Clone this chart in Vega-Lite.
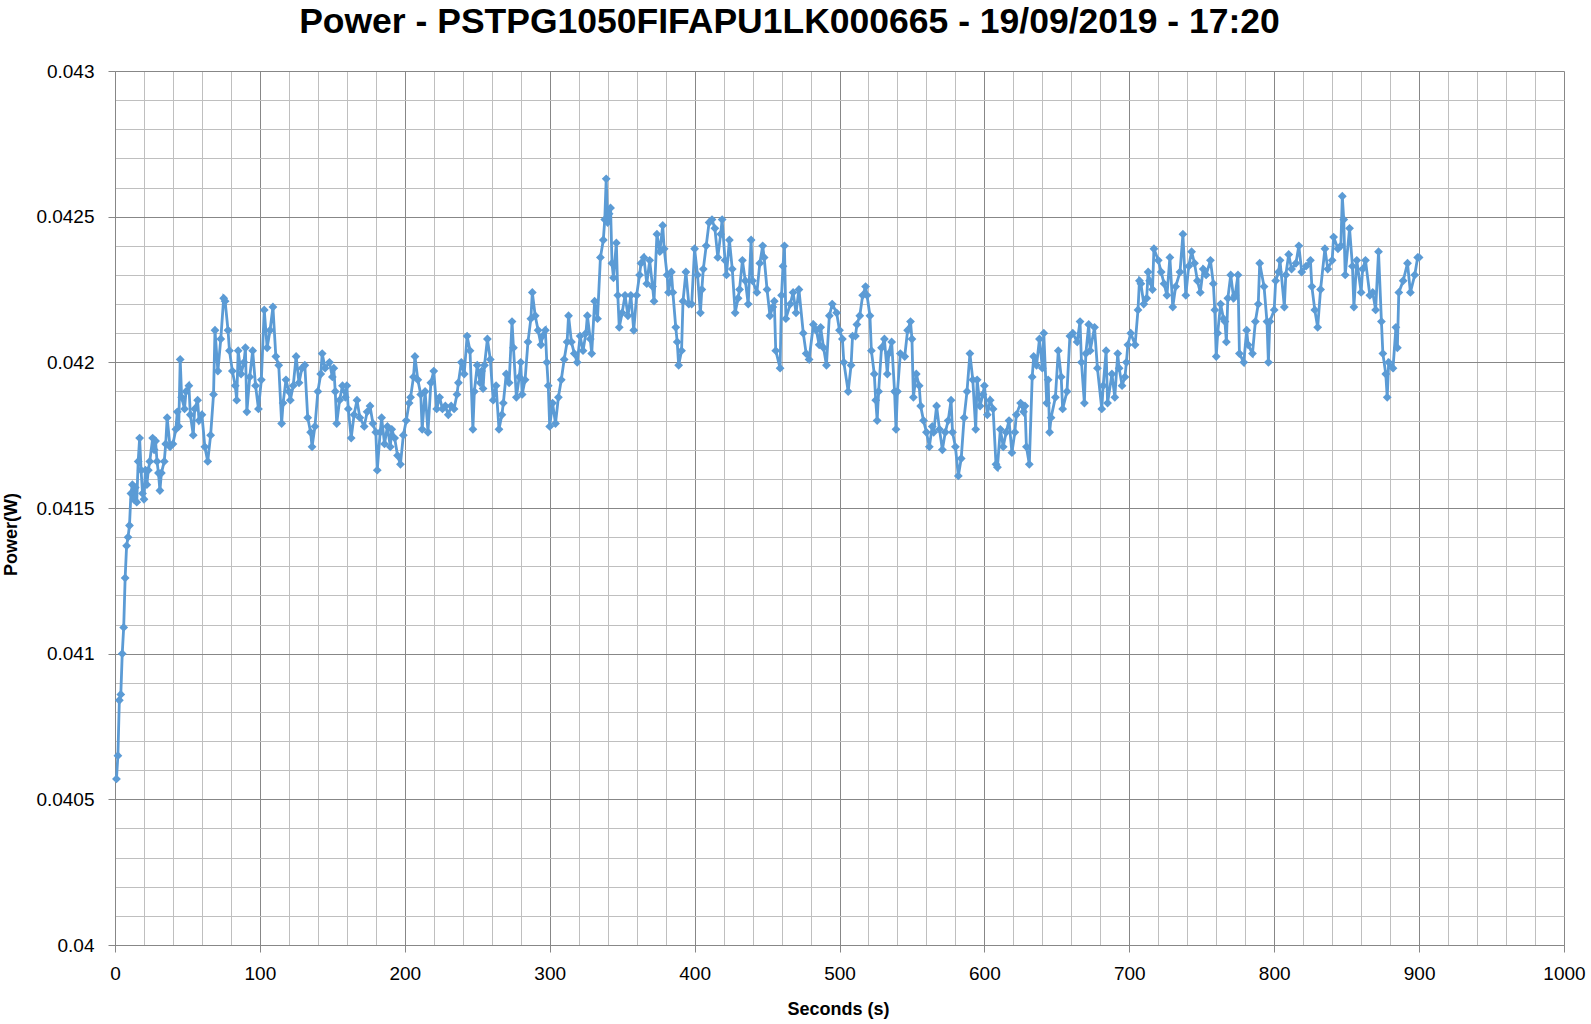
{
  "$schema": "https://vega.github.io/schema/vega-lite/v6.json",
  "width": 1449,
  "height": 874,
  "autosize": {"type": "none"},
  "padding": {"left": 115, "top": 71, "right": 27, "bottom": 79},
  "background": "white",
  "title": {
    "text": "Power - PSTPG1050FIFAPU1LK000665 - 19/09/2019 - 17:20",
    "font": "Liberation Sans",
    "fontSize": 35.5,
    "fontWeight": "bold",
    "color": "#000000",
    "anchor": "middle",
    "frame": "group",
    "offset": 22,
    "dx": -50
  },
  "config": {"view": {"stroke": null}},
  "data": {
    "values": [
      {"s":1,"p":0.04057},{"s":2,"p":0.04065},{"s":3,"p":0.04084},{"s":4,"p":0.04086},{"s":5,"p":0.04100},{"s":6,"p":0.04109},{"s":7,"p":0.04126},{"s":8,"p":0.04137},{"s":9,"p":0.04140},{"s":10,"p":0.04144},
      {"s":11,"p":0.04155},{"s":12,"p":0.04158},{"s":13,"p":0.04153},{"s":14,"p":0.04157},{"s":15,"p":0.04152},{"s":16,"p":0.04166},{"s":17,"p":0.04174},{"s":18,"p":0.04163},{"s":19,"p":0.04155},{"s":20,"p":0.04153},
      {"s":21,"p":0.04163},{"s":22,"p":0.04158},{"s":23,"p":0.04163},{"s":24,"p":0.04166},{"s":26,"p":0.04174},{"s":27,"p":0.04170},{"s":28,"p":0.04173},{"s":29,"p":0.04166},{"s":30,"p":0.04162},{"s":31,"p":0.04156},
      {"s":32,"p":0.04162},{"s":34,"p":0.04166},{"s":35,"p":0.04172},{"s":36,"p":0.04181},{"s":38,"p":0.04171},{"s":40,"p":0.04172},{"s":42,"p":0.04177},{"s":43,"p":0.04183},{"s":44,"p":0.04178},{"s":45,"p":0.04201},
      {"s":46,"p":0.04188},{"s":48,"p":0.04184},{"s":49,"p":0.04190},{"s":51,"p":0.04192},{"s":52,"p":0.04182},{"s":54,"p":0.04175},{"s":55,"p":0.04184},{"s":57,"p":0.04187},{"s":58,"p":0.04180},{"s":60,"p":0.04182},
      {"s":62,"p":0.04171},{"s":64,"p":0.04166},{"s":66,"p":0.04175},{"s":68,"p":0.04189},{"s":69,"p":0.04211},{"s":71,"p":0.04197},{"s":73,"p":0.04208},{"s":75,"p":0.04222},{"s":76,"p":0.04221},{"s":78,"p":0.04211},
      {"s":79,"p":0.04204},{"s":81,"p":0.04197},{"s":83,"p":0.04192},{"s":84,"p":0.04187},{"s":85,"p":0.04204},{"s":87,"p":0.04196},{"s":89,"p":0.04200},{"s":90,"p":0.04205},{"s":91,"p":0.04183},{"s":93,"p":0.04195},
      {"s":95,"p":0.04204},{"s":97,"p":0.04192},{"s":99,"p":0.04184},{"s":101,"p":0.04194},{"s":103,"p":0.04218},{"s":105,"p":0.04205},{"s":107,"p":0.04211},{"s":109,"p":0.04219},{"s":111,"p":0.04202},{"s":113,"p":0.04199},
      {"s":115,"p":0.04179},{"s":116,"p":0.04186},{"s":118,"p":0.04194},{"s":120,"p":0.04190},{"s":121,"p":0.04187},{"s":123,"p":0.04192},{"s":125,"p":0.04202},{"s":127,"p":0.04193},{"s":129,"p":0.04198},{"s":131,"p":0.04199},
      {"s":133,"p":0.04181},{"s":135,"p":0.04176},{"s":136,"p":0.04171},{"s":138,"p":0.04178},{"s":140,"p":0.04190},{"s":142,"p":0.04196},{"s":143,"p":0.04203},{"s":145,"p":0.04198},{"s":148,"p":0.04200},{"s":150,"p":0.04195},
      {"s":151,"p":0.04198},{"s":152,"p":0.04190},{"s":153,"p":0.04179},{"s":155,"p":0.04187},{"s":157,"p":0.04192},{"s":159,"p":0.04188},{"s":160,"p":0.04192},{"s":161,"p":0.04184},{"s":163,"p":0.04174},{"s":165,"p":0.04182},
      {"s":167,"p":0.04187},{"s":169,"p":0.04181},{"s":172,"p":0.04178},{"s":174,"p":0.04183},{"s":176,"p":0.04185},{"s":178,"p":0.04179},{"s":180,"p":0.04176},{"s":181,"p":0.04163},{"s":183,"p":0.04176},{"s":184,"p":0.04181},
      {"s":186,"p":0.04172},{"s":188,"p":0.04178},{"s":190,"p":0.04171},{"s":191,"p":0.04177},{"s":193,"p":0.04174},{"s":195,"p":0.04168},{"s":197,"p":0.04165},{"s":199,"p":0.04175},{"s":201,"p":0.04180},{"s":203,"p":0.04186},
      {"s":204,"p":0.04188},{"s":206,"p":0.04195},{"s":207,"p":0.04202},{"s":209,"p":0.04194},{"s":211,"p":0.04189},{"s":212,"p":0.04177},{"s":214,"p":0.04190},{"s":216,"p":0.04176},{"s":218,"p":0.04193},{"s":220,"p":0.04197},
      {"s":222,"p":0.04184},{"s":224,"p":0.04188},{"s":226,"p":0.04184},{"s":228,"p":0.04185},{"s":230,"p":0.04182},{"s":232,"p":0.04185},{"s":234,"p":0.04184},{"s":236,"p":0.04189},{"s":237,"p":0.04193},{"s":239,"p":0.04200},
      {"s":241,"p":0.04196},{"s":243,"p":0.04209},{"s":245,"p":0.04204},{"s":247,"p":0.04177},{"s":248,"p":0.04190},{"s":250,"p":0.04199},{"s":252,"p":0.04193},{"s":253,"p":0.04197},{"s":254,"p":0.04191},{"s":255,"p":0.04199},
      {"s":257,"p":0.04208},{"s":259,"p":0.04201},{"s":261,"p":0.04187},{"s":263,"p":0.04192},{"s":265,"p":0.04177},{"s":267,"p":0.04182},{"s":268,"p":0.04186},{"s":270,"p":0.04196},{"s":272,"p":0.04193},{"s":274,"p":0.04214},
      {"s":275,"p":0.04205},{"s":277,"p":0.04188},{"s":279,"p":0.04195},{"s":280,"p":0.04200},{"s":281,"p":0.04189},{"s":283,"p":0.04194},{"s":285,"p":0.04207},{"s":287,"p":0.04215},{"s":288,"p":0.04224},{"s":290,"p":0.04216},
      {"s":292,"p":0.04211},{"s":294,"p":0.04206},{"s":295,"p":0.04209},{"s":297,"p":0.04211},{"s":298,"p":0.04200},{"s":299,"p":0.04192},{"s":300,"p":0.04178},{"s":302,"p":0.04186},{"s":304,"p":0.04179},{"s":306,"p":0.04188},
      {"s":308,"p":0.04194},{"s":310,"p":0.04201},{"s":312,"p":0.04207},{"s":313,"p":0.04216},{"s":315,"p":0.04207},{"s":317,"p":0.04203},{"s":319,"p":0.04200},{"s":321,"p":0.04209},{"s":323,"p":0.04204},{"s":325,"p":0.04210},
      {"s":326,"p":0.04216},{"s":328,"p":0.04208},{"s":329,"p":0.04203},{"s":331,"p":0.04221},{"s":333,"p":0.04215},{"s":335,"p":0.04236},{"s":337,"p":0.04242},{"s":338,"p":0.04249},{"s":339,"p":0.04263},{"s":340,"p":0.04248},
      {"s":341,"p":0.04251},{"s":342,"p":0.04253},{"s":343,"p":0.04234},{"s":344,"p":0.04229},{"s":346,"p":0.04241},{"s":347,"p":0.04223},{"s":348,"p":0.04212},{"s":350,"p":0.04217},{"s":352,"p":0.04223},{"s":354,"p":0.04216},
      {"s":356,"p":0.04223},{"s":358,"p":0.04211},{"s":360,"p":0.04223},{"s":362,"p":0.04230},{"s":363,"p":0.04234},{"s":365,"p":0.04236},{"s":367,"p":0.04227},{"s":369,"p":0.04235},{"s":371,"p":0.04226},{"s":372,"p":0.04221},
      {"s":374,"p":0.04244},{"s":376,"p":0.04238},{"s":378,"p":0.04247},{"s":379,"p":0.04239},{"s":381,"p":0.04230},{"s":382,"p":0.04224},{"s":384,"p":0.04231},{"s":385,"p":0.04224},{"s":387,"p":0.04212},{"s":388,"p":0.04207},
      {"s":389,"p":0.04199},{"s":391,"p":0.04204},{"s":392,"p":0.04221},{"s":394,"p":0.04231},{"s":396,"p":0.04220},{"s":398,"p":0.04220},{"s":400,"p":0.04239},{"s":402,"p":0.04230},{"s":404,"p":0.04217},{"s":405,"p":0.04225},
      {"s":406,"p":0.04232},{"s":408,"p":0.04240},{"s":410,"p":0.04248},{"s":412,"p":0.04249},{"s":414,"p":0.04246},{"s":416,"p":0.04236},{"s":418,"p":0.04244},{"s":419,"p":0.04249},{"s":421,"p":0.04235},{"s":422,"p":0.04230},
      {"s":424,"p":0.04242},{"s":426,"p":0.04232},{"s":428,"p":0.04217},{"s":430,"p":0.04222},{"s":431,"p":0.04225},{"s":433,"p":0.04235},{"s":435,"p":0.04228},{"s":437,"p":0.04220},{"s":439,"p":0.04242},{"s":440,"p":0.04228},
      {"s":443,"p":0.04224},{"s":445,"p":0.04234},{"s":447,"p":0.04240},{"s":448,"p":0.04236},{"s":450,"p":0.04225},{"s":452,"p":0.04216},{"s":454,"p":0.04219},{"s":455,"p":0.04221},{"s":456,"p":0.04204},{"s":459,"p":0.04198},
      {"s":460,"p":0.04223},{"s":461,"p":0.04233},{"s":462,"p":0.04240},{"s":463,"p":0.04215},{"s":466,"p":0.04220},{"s":468,"p":0.04224},{"s":470,"p":0.04217},{"s":472,"p":0.04225},{"s":475,"p":0.04210},{"s":477,"p":0.04203},
      {"s":479,"p":0.04201},{"s":482,"p":0.04213},{"s":484,"p":0.04211},{"s":486,"p":0.04206},{"s":487,"p":0.04212},{"s":489,"p":0.04205},{"s":491,"p":0.04199},{"s":493,"p":0.04216},{"s":495,"p":0.04220},{"s":498,"p":0.04217},
      {"s":500,"p":0.04211},{"s":502,"p":0.04208},{"s":503,"p":0.04200},{"s":506,"p":0.04190},{"s":508,"p":0.04199},{"s":509,"p":0.04209},{"s":511,"p":0.04209},{"s":512,"p":0.04213},{"s":514,"p":0.04216},{"s":516,"p":0.04223},
      {"s":518,"p":0.04226},{"s":519,"p":0.04223},{"s":521,"p":0.04216},{"s":522,"p":0.04204},{"s":524,"p":0.04196},{"s":525,"p":0.04187},{"s":526,"p":0.04180},{"s":527,"p":0.04190},{"s":529,"p":0.04205},{"s":531,"p":0.04208},
      {"s":533,"p":0.04196},{"s":534,"p":0.04203},{"s":536,"p":0.04207},{"s":538,"p":0.04190},{"s":539,"p":0.04177},{"s":540,"p":0.04190},{"s":542,"p":0.04203},{"s":545,"p":0.04202},{"s":547,"p":0.04211},{"s":549,"p":0.04214},
      {"s":550,"p":0.04208},{"s":551,"p":0.04188},{"s":553,"p":0.04196},{"s":555,"p":0.04192},{"s":556,"p":0.04185},{"s":558,"p":0.04180},{"s":560,"p":0.04176},{"s":562,"p":0.04171},{"s":564,"p":0.04178},{"s":565,"p":0.04176},
      {"s":567,"p":0.04185},{"s":569,"p":0.04177},{"s":571,"p":0.04170},{"s":573,"p":0.04176},{"s":575,"p":0.04180},{"s":577,"p":0.04187},{"s":578,"p":0.04176},{"s":580,"p":0.04171},{"s":582,"p":0.04161},{"s":584,"p":0.04167},
      {"s":586,"p":0.04181},{"s":588,"p":0.04190},{"s":590,"p":0.04203},{"s":592,"p":0.04194},{"s":594,"p":0.04177},{"s":595,"p":0.04194},{"s":597,"p":0.04185},{"s":599,"p":0.04189},{"s":600,"p":0.04192},{"s":602,"p":0.04182},
      {"s":604,"p":0.04187},{"s":606,"p":0.04184},{"s":608,"p":0.04165},{"s":609,"p":0.04164},{"s":611,"p":0.04177},{"s":613,"p":0.04171},{"s":615,"p":0.04176},{"s":617,"p":0.04180},{"s":619,"p":0.04169},{"s":621,"p":0.04176},
      {"s":622,"p":0.04182},{"s":625,"p":0.04186},{"s":627,"p":0.04183},{"s":628,"p":0.04185},{"s":629,"p":0.04171},{"s":631,"p":0.04165},{"s":633,"p":0.04195},{"s":634,"p":0.04202},{"s":636,"p":0.04199},{"s":638,"p":0.04208},
      {"s":640,"p":0.04198},{"s":641,"p":0.04210},{"s":643,"p":0.04186},{"s":644,"p":0.04194},{"s":645,"p":0.04176},{"s":646,"p":0.04181},{"s":649,"p":0.04188},{"s":651,"p":0.04204},{"s":653,"p":0.04195},{"s":654,"p":0.04184},
      {"s":657,"p":0.04190},{"s":659,"p":0.04209},{"s":661,"p":0.04210},{"s":664,"p":0.04207},{"s":666,"p":0.04214},{"s":667,"p":0.04200},{"s":669,"p":0.04186},{"s":670,"p":0.04203},{"s":672,"p":0.04213},{"s":673,"p":0.04204},
      {"s":676,"p":0.04212},{"s":678,"p":0.04198},{"s":681,"p":0.04184},{"s":682,"p":0.04192},{"s":684,"p":0.04204},{"s":685,"p":0.04186},{"s":688,"p":0.04196},{"s":690,"p":0.04188},{"s":692,"p":0.04203},{"s":693,"p":0.04198},
      {"s":695,"p":0.04192},{"s":697,"p":0.04195},{"s":698,"p":0.04200},{"s":699,"p":0.04206},{"s":701,"p":0.04210},{"s":704,"p":0.04206},{"s":706,"p":0.04218},{"s":707,"p":0.04228},{"s":708,"p":0.04227},{"s":710,"p":0.04220},
      {"s":712,"p":0.04222},{"s":713,"p":0.04231},{"s":714,"p":0.04228},{"s":716,"p":0.04225},{"s":717,"p":0.04239},{"s":720,"p":0.04235},{"s":722,"p":0.04231},{"s":724,"p":0.04227},{"s":726,"p":0.04223},{"s":728,"p":0.04236},
      {"s":730,"p":0.04219},{"s":732,"p":0.04226},{"s":735,"p":0.04231},{"s":737,"p":0.04244},{"s":739,"p":0.04223},{"s":741,"p":0.04233},{"s":743,"p":0.04238},{"s":745,"p":0.04234},{"s":747,"p":0.04228},{"s":749,"p":0.04224},
      {"s":751,"p":0.04232},{"s":753,"p":0.04230},{"s":756,"p":0.04235},{"s":758,"p":0.04227},{"s":759,"p":0.04218},{"s":760,"p":0.04202},{"s":761,"p":0.04210},{"s":763,"p":0.04220},{"s":765,"p":0.04215},{"s":766,"p":0.04214},
      {"s":767,"p":0.04207},{"s":768,"p":0.04222},{"s":770,"p":0.04230},{"s":772,"p":0.04222},{"s":773,"p":0.04223},{"s":775,"p":0.04230},{"s":776,"p":0.04203},{"s":779,"p":0.04200},{"s":781,"p":0.04211},{"s":782,"p":0.04206},
      {"s":785,"p":0.04203},{"s":787,"p":0.04214},{"s":789,"p":0.04220},{"s":790,"p":0.04234},{"s":793,"p":0.04226},{"s":795,"p":0.04214},{"s":796,"p":0.04200},{"s":797,"p":0.04214},{"s":800,"p":0.04218},{"s":801,"p":0.04228},
      {"s":803,"p":0.04231},{"s":804,"p":0.04235},{"s":807,"p":0.04219},{"s":808,"p":0.04230},{"s":810,"p":0.04237},{"s":812,"p":0.04232},{"s":815,"p":0.04234},{"s":817,"p":0.04240},{"s":819,"p":0.04231},{"s":822,"p":0.04233},
      {"s":825,"p":0.04235},{"s":826,"p":0.04226},{"s":828,"p":0.04218},{"s":830,"p":0.04212},{"s":832,"p":0.04225},{"s":835,"p":0.04239},{"s":837,"p":0.04232},{"s":840,"p":0.04235},{"s":841,"p":0.04243},{"s":844,"p":0.04239},
      {"s":846,"p":0.04240},{"s":847,"p":0.04257},{"s":848,"p":0.04249},{"s":849,"p":0.04230},{"s":852,"p":0.04246},{"s":854,"p":0.04233},{"s":855,"p":0.04219},{"s":857,"p":0.04235},{"s":860,"p":0.04224},{"s":861,"p":0.04232},
      {"s":863,"p":0.04235},{"s":866,"p":0.04223},{"s":868,"p":0.04224},{"s":870,"p":0.04218},{"s":872,"p":0.04238},{"s":874,"p":0.04214},{"s":875,"p":0.04203},{"s":877,"p":0.04196},{"s":878,"p":0.04188},{"s":879,"p":0.04200},
      {"s":882,"p":0.04198},{"s":884,"p":0.04212},{"s":885,"p":0.04205},{"s":886,"p":0.04224},{"s":889,"p":0.04228},{"s":892,"p":0.04234},{"s":894,"p":0.04224},{"s":897,"p":0.04230},{"s":899,"p":0.04236},{"s":900,"p":0.04236}
    ]
  },
  "encoding": {
    "x": {
      "field": "s",
      "type": "quantitative",
      "scale": {"domain": [0, 1000], "nice": false, "zero": false},
      "axis": {
        "orient": "bottom",
        "values": [0,20,40,60,80,100,120,140,160,180,200,220,240,260,280,300,320,340,360,380,400,420,440,460,480,500,520,540,560,580,600,620,640,660,680,700,720,740,760,780,800,820,840,860,880,900,920,940,960,980,1000],
        "format": "d",
        "labelExpr": "datum.value % 100 === 0 ? datum.label : ''",
        "grid": true,
        "gridColor": {"condition": {"test": "datum.value % 100 === 0", "value": "#878787"}, "value": "#bfbfbf"},
        "gridWidth": 1,
        "domain": true,
        "domainColor": "#878787",
        "domainWidth": 1,
        "ticks": true,
        "tickColor": "#878787",
        "tickSize": 7,
        "tickOpacity": {"condition": {"test": "datum.value % 100 === 0", "value": 1}, "value": 0},
        "labelFont": "Liberation Sans",
        "labelFontSize": 19,
        "labelColor": "#000000",
        "labelPadding": 12,
        "labelFlush": false,
        "labelOverlap": false,
        "title": "Seconds (s)",
        "titleFont": "Liberation Sans",
        "titleFontSize": 18,
        "titleFontWeight": "bold",
        "titleColor": "#000000",
        "titleX": 723,
        "titleY": 55,
        "titleBaseline": "top"
      }
    },
    "y": {
      "field": "p",
      "type": "quantitative",
      "scale": {"domain": [0.04, 0.043], "nice": false, "zero": false},
      "axis": {
        "orient": "left",
        "values": [0.04,0.0401,0.0402,0.0403,0.0404,0.0405,0.0406,0.0407,0.0408,0.0409,0.041,0.0411,0.0412,0.0413,0.0414,0.0415,0.0416,0.0417,0.0418,0.0419,0.042,0.0421,0.0422,0.0423,0.0424,0.0425,0.0426,0.0427,0.0428,0.0429,0.043],
        "format": "~g",
        "labelExpr": "round(datum.value * 10000) % 5 === 0 ? datum.label : ''",
        "grid": true,
        "gridColor": {"condition": {"test": "round(datum.value * 10000) % 5 === 0", "value": "#878787"}, "value": "#bfbfbf"},
        "gridWidth": 1,
        "domain": true,
        "domainColor": "#878787",
        "domainWidth": 1,
        "ticks": true,
        "tickColor": "#878787",
        "tickSize": 7,
        "tickOpacity": {"condition": {"test": "round(datum.value * 10000) % 5 === 0", "value": 1}, "value": 0},
        "labelFont": "Liberation Sans",
        "labelFontSize": 19,
        "labelColor": "#000000",
        "labelPadding": 14,
        "labelOverlap": false,
        "labelFlush": false,
        "title": "Power(W)",
        "titleFont": "Liberation Sans",
        "titleFontSize": 18,
        "titleFontWeight": "bold",
        "titleColor": "#000000",
        "titleAngle": -90,
        "titleX": -95,
        "titleY": 463,
        "titleBaseline": "bottom",
        "titleAlign": "center"
      }
    }
  },
  "layer": [
    {"mark": {"type": "line", "color": "#5B9BD5", "strokeWidth": 2.8}},
    {"mark": {"type": "point", "shape": "diamond", "size": 78, "filled": true, "color": "#5B9BD5", "opacity": 1}}
  ]
}
